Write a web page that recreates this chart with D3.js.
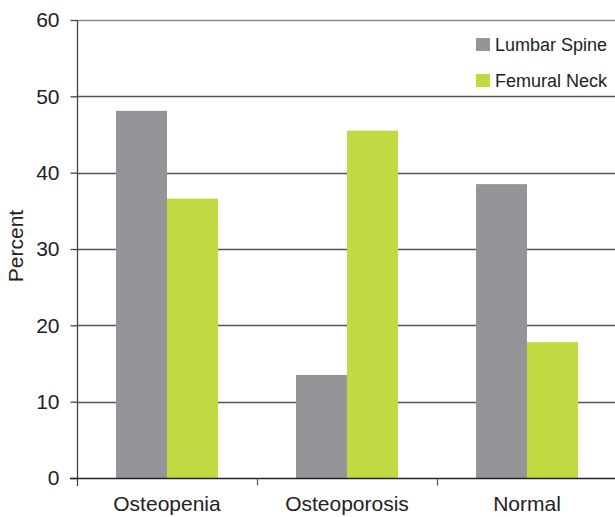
<!DOCTYPE html>
<html>
<head>
<meta charset="utf-8">
<script src="https://cdn.jsdelivr.net/npm/d3@7/dist/d3.min.js"></script>
<style>
  html, body { margin: 0; padding: 0; background: #fff; }
  svg { display: block; font-family: "Liberation Sans", Arial, sans-serif; }
</style>
</head>
<body>
<svg id="chart" width="615" height="517"></svg>
<script>
// Bone density classification by site
const categories = ["Osteopenia", "Osteoporosis", "Normal"];
const seriesNames = ["Lumbar Spine", "Femural Neck"];
const lumbarSpine = [48.1, 13.5, 38.5];
const femuralNeck = [36.6, 45.5, 17.8];
const yTicks = [0, 10, 20, 30, 40, 50, 60];
const colors = ["#939598", "#c3d941"];

const series = [lumbarSpine, femuralNeck];
const rows = categories.map((c, i) => ({ cat: c, values: series.map(s => s[i]) }));

const svg = d3.select("#chart");
const margin = { left: 77, right: -2, top: 20, bottom: 39 };
const W = 615, H = 517;

// one cell per category
const cell = d3.scaleBand().domain(categories).range([margin.left, W - margin.right]);
const xInner = d3.scaleBand().domain(d3.range(seriesNames.length)).range([0, 102]);

const y = d3.scaleLinear().domain([0, 60]).range([H - margin.bottom, margin.top]);

// horizontal gridlines
svg.append("g")
  .selectAll("line")
  .data(yTicks.filter(t => t > 0))
  .join("line")
  .attr("x1", margin.left)
  .attr("x2", W)
  .attr("y1", d => Math.round(y(d)) + 0.5)
  .attr("y2", d => Math.round(y(d)) + 0.5)
  .attr("stroke", d => d === 60 ? "#8a8a8a" : "#555")
  .attr("stroke-width", 1.3);

// bars
const groups = svg.append("g")
  .selectAll("g")
  .data(rows)
  .join("g")
  .attr("transform", d => `translate(${cell(d.cat) + cell.bandwidth() / 2 - 51},0)`);

groups.selectAll("rect")
  .data(d => d.values.map((v, i) => ({ v, i })))
  .join("rect")
  .attr("x", d => xInner(d.i))
  .attr("width", xInner.bandwidth())
  .attr("y", d => y(d.v))
  .attr("height", d => y(0) - y(d.v))
  .attr("fill", d => colors[d.i]);

// y axis
const yAxis = d3.axisLeft(y).tickValues(yTicks).tickSize(7).tickPadding(11).tickFormat(d3.format("d"));
const gy = svg.append("g")
  .attr("transform", `translate(${margin.left + 0.5},0)`)
  .call(yAxis);
gy.select(".domain").attr("stroke", "#444").attr("stroke-width", 1.3).attr("d", `M0,${y(60)}V${y(0) + 8}`);
gy.selectAll(".tick line").attr("stroke", "#444").attr("stroke-width", 1.3);
gy.selectAll(".tick text").attr("font-size", 21).attr("fill", "#222");

// x axis baseline and category separators
const gx = svg.append("g").attr("transform", `translate(0,${Math.round(y(0)) + 0.5})`);
gx.append("line")
  .attr("x1", margin.left - 7).attr("x2", W)
  .attr("stroke", "#222").attr("stroke-width", 1.5);
gx.selectAll(".sep")
  .data(categories.slice(1))
  .join("line")
  .attr("class", "sep")
  .attr("x1", d => Math.round(cell(d)) + 0.5)
  .attr("x2", d => Math.round(cell(d)) + 0.5)
  .attr("y1", 0).attr("y2", 7)
  .attr("stroke", "#555").attr("stroke-width", 1.2);
gx.selectAll(".lbl")
  .data(categories)
  .join("text")
  .attr("class", "lbl")
  .attr("x", d => cell(d) + cell.bandwidth() / 2)
  .attr("y", 32)
  .attr("text-anchor", "middle")
  .attr("font-size", 21)
  .attr("fill", "#222")
  .text(d => d);

// y axis title
svg.append("text")
  .attr("transform", `translate(23,246) rotate(-90)`)
  .attr("text-anchor", "middle")
  .attr("font-size", 21)
  .attr("fill", "#222")
  .text("Percent");

// legend
const legend = svg.append("g").attr("transform", "translate(476,38)");
const li = legend.selectAll("g")
  .data(seriesNames)
  .join("g")
  .attr("transform", (d, i) => `translate(0,${i * 36})`);
li.append("rect").attr("width", 14).attr("height", 13).attr("fill", (d, i) => colors[i]);
li.append("text")
  .attr("x", 19).attr("y", 12.5)
  .attr("font-size", 18)
  .attr("fill", "#222")
  .text(d => d);
</script>
</body>
</html>
